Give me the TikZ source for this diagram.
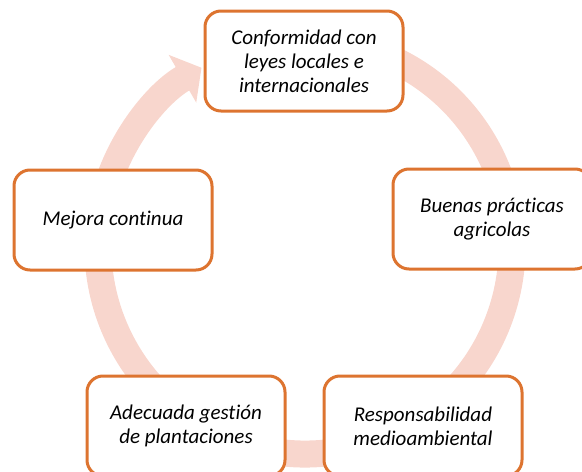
\documentclass[tikz,border=0pt]{standalone}
\usepackage{fontspec}
\setmainfont{Carlito}[Ligatures=NoCommon]
\usetikzlibrary{arrows.meta}
\definecolor{ringpink}{RGB}{248,214,205}
\definecolor{boxorange}{RGB}{221,116,48}

\begin{document}
\begin{tikzpicture}[x=1pt,y=-1pt,
    stage/.style={draw=boxorange, line width=3pt, fill=white, rounded corners=16pt,
      minimum width=198pt, minimum height=100pt, inner sep=0pt, align=center,
      font=\itshape\fontsize{21}{24}\selectfont}]
    % 
  \useasboundingbox (0,0) rectangle (582,472);
  \clip (0,0) rectangle (582,472);
  % cycle arrow behind the stages
  \draw[ringpink, line width=27pt, -{Triangle[length=22pt,width=54pt]}]
    (305,247) ++(-70:207) arc[start angle=-70, end angle=240, radius=207];
  % stages
  \node[stage] (conformidad) at (304,61) {Conformidad con\\leyes locales e\\internacionales};
  \node[stage] (buenas) at (492,219) {Buenas prácticas\\agricolas};
  \node[stage] (responsabilidad) at (423,426) {Responsabilidad\\medioambiental};
  \node[stage] (adecuada) at (186,426) {Adecuada gestión\\de plantaciones};
  \node[stage] (mejora) at (113,220) {Mejora continua};

\end{tikzpicture}
\end{document}
